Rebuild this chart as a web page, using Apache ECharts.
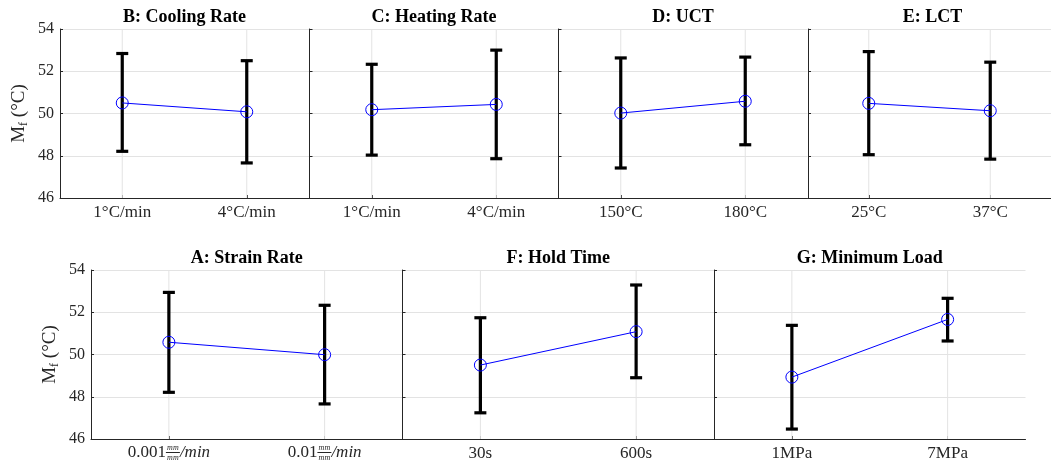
<!DOCTYPE html>
<html>
<head>
<meta charset="utf-8">
<script src="https://cdn.jsdelivr.net/npm/echarts@6/dist/echarts.min.js"></script>
<style>
  html, body { margin: 0; padding: 0; background: #fff; }
  #chart { width: 1051px; height: 467px; }
</style>
</head>
<body>
<div id="chart"></div>
<script>
// ---- Data ----
const panelTitles = ['B: Cooling Rate', 'C: Heating Rate', 'D: UCT', 'E: LCT', 'A: Strain Rate', 'F: Hold Time', 'G: Minimum Load'];

const catsB = ['1°C/min', '4°C/min'];
const meanB = [50.50, 50.08];
const lowB  = [48.21, 47.66];
const highB = [52.84, 52.50];

const catsC = ['1°C/min', '4°C/min'];
const meanC = [50.18, 50.43];
const lowC  = [48.03, 47.86];
const highC = [52.33, 53.00];

const catsD = ['150°C', '180°C'];
const meanD = [50.02, 50.58];
const lowD  = [47.42, 48.52];
const highD = [52.63, 52.67];

const catsE = ['25°C', '37°C'];
const meanE = [50.48, 50.13];
const lowE  = [48.05, 47.84];
const highE = [52.93, 52.43];

const catsA = ['0.001', '0.01'];
const meanA = [50.58, 49.99];
const lowA  = [48.21, 47.66];
const highA = [52.94, 52.33];

const catsF = ['30s', '600s'];
const meanF = [49.50, 51.08];
const lowF  = [47.24, 48.90];
const highF = [51.74, 53.29];

const catsG = ['1MPa', '7MPa'];
const meanG = [48.93, 51.66];
const lowG  = [46.47, 50.64];
const highG = [51.38, 52.66];

const yTicks = [46, 48, 50, 52, 54];
const yName = '{m|M}{s|f}{m| (°C)}';

// ---- Layout / style ----
const FONT = 'Liberation Serif';
const AX = '#262626';
const GRIDC = '#e3e3e3';

const panels = [
  { cats: catsB, mean: meanB, low: lowB, high: highB, left: 60,    top: 29,  width: 249,   showY: true },
  { cats: catsC, mean: meanC, low: lowC, high: highC, left: 309.5, top: 29,  width: 249,   showY: false },
  { cats: catsD, mean: meanD, low: lowD, high: highD, left: 558.5, top: 29,  width: 249,   showY: false },
  { cats: catsE, mean: meanE, low: lowE, high: highE, left: 808,   top: 29,  width: 249,   showY: false },
  { cats: catsA, mean: meanA, low: lowA, high: highA, left: 91,    top: 270, width: 311.5, showY: true, frac: true },
  { cats: catsF, mean: meanF, low: lowF, high: highF, left: 402.5, top: 270, width: 311.5, showY: false },
  { cats: catsG, mean: meanG, low: lowG, high: highG, left: 714,   top: 270, width: 311.5, showY: false }
];
const PH = 169;

const grids = [], xAxes = [], yAxes = [], series = [], titles = [];

panels.forEach((p, i) => {
  grids.push({ left: p.left, top: p.top, width: p.width, height: PH });

  const labelBase = { fontFamily: FONT, fontSize: 17, color: AX, margin: 6, interval: 0 };
  let axisLabel = labelBase;
  if (p.frac) {
    axisLabel = Object.assign({}, labelBase, {
      margin: 6,
      formatter: (v) =>
        '{h|' + v + '}{num|mm}{h2|/min}\n' +
        '{n|' + v + '}{bar|}{it|/min}\n' +
        '{h|' + v + '}{num|mm}{h2|/min}',
      rich: {
        h:   { fontFamily: FONT, fontSize: 17, color: 'rgba(0,0,0,0)', lineHeight: 5 },
        h2:  { fontFamily: FONT, fontSize: 17, fontStyle: 'italic', color: 'rgba(0,0,0,0)', lineHeight: 5 },
        n:   { fontFamily: FONT, fontSize: 17, color: AX, lineHeight: 5 },
        it:  { fontFamily: FONT, fontSize: 17, fontStyle: 'italic', color: AX, lineHeight: 5 },
        num: { fontFamily: FONT, fontSize: 8, fontStyle: 'italic', color: AX, lineHeight: 5, width: 14, align: 'center' },
        bar: { width: 14, height: 1, backgroundColor: AX, lineHeight: 5 }
      }
    });
  }

  xAxes.push({
    gridIndex: i, type: 'category', data: p.cats, boundaryGap: true,
    axisLine: { show: true, lineStyle: { color: AX, width: 1 } },
    axisTick: { show: true, inside: true, length: 3, alignWithLabel: true, lineStyle: { color: AX } },
    axisLabel: axisLabel,
    splitLine: { show: false }
  });

  yAxes.push({
    gridIndex: i, type: 'value', min: yTicks[0], max: yTicks[yTicks.length - 1], interval: 2,
    axisLine: { show: true, lineStyle: { color: AX, width: 1 } },
    axisTick: { show: true, inside: true, length: 3, lineStyle: { color: AX } },
    axisLabel: { show: p.showY, fontFamily: FONT, fontSize: 16, color: AX, margin: 6 },
    splitLine: { show: true, lineStyle: { color: GRIDC, width: 1 } },
    name: p.showY ? yName : '',
    nameLocation: 'middle', nameRotate: 90, nameGap: 30,
    nameTextStyle: {
      rich: {
        m: { fontFamily: FONT, fontSize: 19, color: AX, lineHeight: 22 },
        s: { fontFamily: FONT, fontSize: 12, color: AX, lineHeight: 11, verticalAlign: 'bottom' }
      }
    }
  });

  // error bars (+ vertical grid lines at categories)
  series.push({
    type: 'custom', xAxisIndex: i, yAxisIndex: i, z: 2, silent: true,
    data: p.cats.map((c, k) => [k, p.low[k], p.high[k]]),
    renderItem: (params, api) => {
      const k = api.value(0);
      const top = api.coord([k, api.value(2)]);
      const bot = api.coord([k, api.value(1)]);
      const cs = params.coordSys;
      const hw = 6;
      return {
        type: 'group',
        children: [
          { type: 'line', z2: 0, shape: { x1: top[0], y1: cs.y, x2: top[0], y2: cs.y + cs.height }, style: { stroke: GRIDC, lineWidth: 1 } },
          { type: 'line', z2: 1, shape: { x1: top[0], y1: top[1], x2: bot[0], y2: bot[1] }, style: { stroke: '#000', lineWidth: 3.2 } },
          { type: 'line', z2: 1, shape: { x1: top[0] - hw, y1: top[1], x2: top[0] + hw, y2: top[1] }, style: { stroke: '#000', lineWidth: 3.2 } },
          { type: 'line', z2: 1, shape: { x1: bot[0] - hw, y1: bot[1], x2: bot[0] + hw, y2: bot[1] }, style: { stroke: '#000', lineWidth: 3.2 } }
        ]
      };
    }
  });

  // mean line with open circles
  series.push({
    type: 'line', xAxisIndex: i, yAxisIndex: i, z: 3, silent: true,
    data: p.mean,
    symbol: 'circle', symbolSize: 12,
    lineStyle: { color: '#0000ff', width: 1 },
    itemStyle: { color: 'rgba(0,0,0,0)', borderColor: '#0000ff', borderWidth: 1 },
    emphasis: { disabled: true }
  });

  titles.push({
    text: panelTitles[i],
    left: p.left + p.width / 2, top: p.top - 21,
    textAlign: 'center', padding: 0,
    textStyle: { fontFamily: FONT, fontWeight: 'bold', fontSize: 18, color: '#000' }
  });
});

const chart = echarts.init(document.getElementById('chart'), null, { renderer: 'canvas' });
chart.setOption({
  animation: false,
  backgroundColor: '#fff',
  title: titles,
  grid: grids,
  xAxis: xAxes,
  yAxis: yAxes,
  series: series
});
</script>
</body>
</html>
